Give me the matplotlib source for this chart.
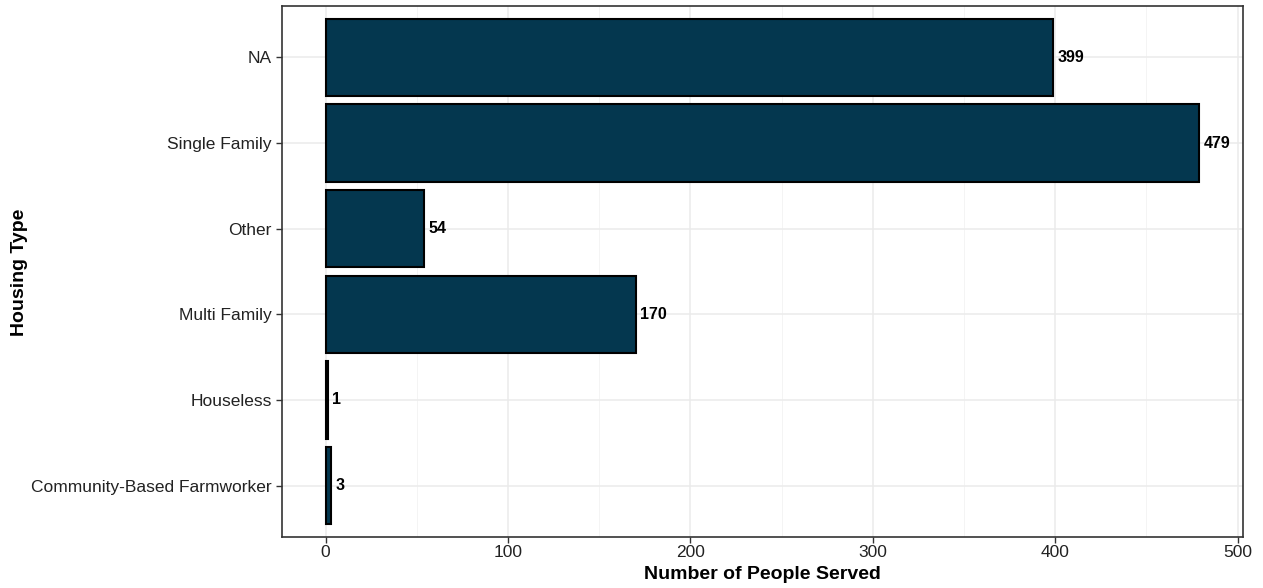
import numpy as np
import matplotlib
matplotlib.use("Agg")
import matplotlib.pyplot as plt
from matplotlib.ticker import MultipleLocator

# données (de bas en haut)
categories = ["Community-Based Farmworker", "Houseless", "Multi Family",
              "Other", "Single Family", "NA"]
counts = [3, 1, 170, 54, 479, 399]
xticks = [0, 100, 200, 300, 400, 500]

plt.rcParams['font.family'] = ['Liberation Sans', 'DejaVu Sans']

fig = plt.figure(figsize=(12.63, 5.88), dpi=100)
ax = fig.add_axes([282/1263, 1 - 537/588, (1243 - 282)/1263, (537 - 6)/588])

y = np.arange(len(categories))
ax.barh(y, counts, height=0.9, color="#04374F", edgecolor="black", linewidth=1.5, zorder=3)

for yi, v in zip(y, counts):
    ax.annotate(str(v), (v, yi), xytext=(3, 0), textcoords="offset points",
                ha="left", va="center", fontsize=11.5, fontweight="bold", color="black")

ax.set_xlim(-0.05*max(counts), max(counts)*1.05)
ax.set_ylim(-0.6, len(categories) - 0.4)
ax.set_xticks(xticks)
ax.xaxis.set_minor_locator(MultipleLocator(50))
ax.set_yticks(y)
ax.set_yticklabels(categories)

ax.grid(which="major", color="#ebebeb", linewidth=1.1, zorder=0)
ax.grid(which="minor", axis="x", color="#f2f2f2", linewidth=0.6, zorder=0)
ax.tick_params(which="minor", length=0)
ax.tick_params(which="major", length=4, width=1, color="#333333", labelsize=12.5, labelcolor="#222222")
ax.tick_params(axis="x", pad=2)
for s in ax.spines.values():
    s.set_color("#333333")
    s.set_linewidth(1.2)

ax.set_xlabel("Number of People Served", fontsize=14, fontweight="bold", labelpad=4)
# titre de l'axe y placé à la main (sinon coupé)
fig.text(20/1263, 1 - 272/588, "Housing Type", rotation=90, fontsize=14, fontweight="bold",
         ha="center", va="center")

fig.savefig("out.png", dpi=100)
